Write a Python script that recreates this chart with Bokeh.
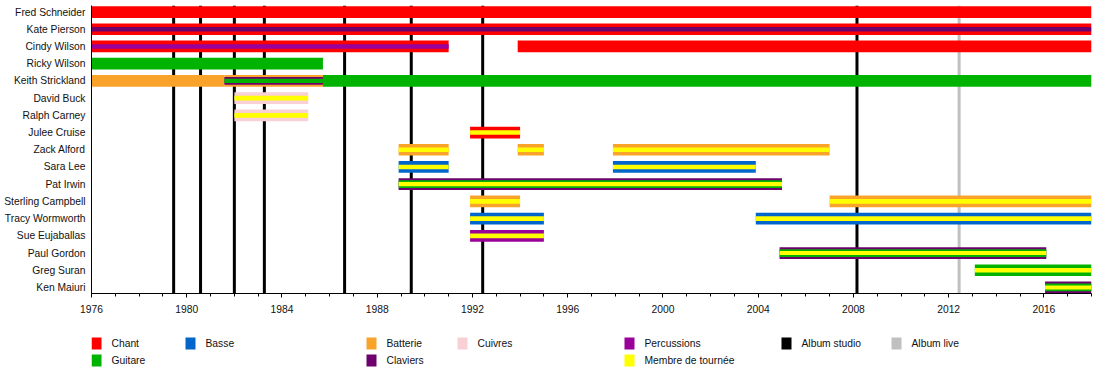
from bokeh.plotting import figure
from bokeh.models import Range1d, FixedTicker, Span, ColumnDataSource
from bokeh.layouts import column
from bokeh.embed import file_html
from bokeh.resources import INLINE
from bokeh.core.properties import value

# ---------------- data ----------------
members = ["Fred Schneider", "Kate Pierson", "Cindy Wilson", "Ricky Wilson",
           "Keith Strickland", "David Buck", "Ralph Carney", "Julee Cruise",
           "Zack Alford", "Sara Lee", "Pat Irwin", "Sterling Campbell",
           "Tracy Wormworth", "Sue Eujaballas", "Paul Gordon", "Greg Suran",
           "Ken Maiuri"]

role_names = ["Chant", "Guitare", "Basse", "Batterie", "Claviers", "Cuivres",
              "Percussions", "Membre de tournée"]
role_colors = ["#FF0000", "#00B300", "#0066CC", "#FAA32B", "#6E006E", "#F9D0D6",
               "#9A009A", "#FFFF00"]

T = "Membre de tournée"
period_member = ["Fred Schneider", "Kate Pierson", "Cindy Wilson", "Cindy Wilson",
                 "Ricky Wilson", "Keith Strickland", "Keith Strickland", "Keith Strickland",
                 "David Buck", "Ralph Carney", "Julee Cruise",
                 "Zack Alford", "Zack Alford", "Zack Alford",
                 "Sara Lee", "Sara Lee", "Pat Irwin",
                 "Sterling Campbell", "Sterling Campbell",
                 "Tracy Wormworth", "Tracy Wormworth", "Sue Eujaballas",
                 "Paul Gordon", "Greg Suran", "Ken Maiuri"]
period_start = [1976, 1976, 1976, 1993.9,
                1976, 1976, 1981.58, 1985.72,
                1982.0, 1982.0, 1991.9,
                1988.9, 1993.9, 1997.9,
                1988.9, 1997.9, 1988.9,
                1991.9, 2007.0,
                1991.9, 2003.9, 1991.9,
                2004.9, 2013.1, 2016.05]
period_end = [2018, 2018, 1991.0, 2018,
              1985.72, 1981.58, 1985.72, 2018,
              1985.1, 1985.1, 1994.0,
              1991.0, 1995.0, 2007.0,
              1991.0, 2003.9, 2005.0,
              1994.0, 2018,
              1995.0, 2018, 1995.0,
              2016.1, 2018, 2018]
period_roles = [["Chant"], ["Chant", "Claviers"], ["Chant", "Percussions"], ["Chant"],
                ["Guitare"], ["Batterie"], ["Batterie", "Claviers", "Guitare"], ["Guitare"],
                ["Cuivres", T], ["Cuivres", T], ["Chant", T],
                ["Batterie", T], ["Batterie", T], ["Batterie", T],
                ["Basse", T], ["Basse", T], ["Claviers", "Guitare", T],
                ["Batterie", T], ["Batterie", T],
                ["Basse", T], ["Basse", T], ["Percussions", T],
                ["Claviers", "Guitare", T], ["Guitare", T], ["Claviers", "Guitare", T]]

studio_albums = [1979.45, 1980.58, 1982.0, 1983.26, 1986.63, 1989.43, 1992.43, 2008.15]
live_albums = [2012.44]

tick_years = [1976, 1980, 1984, 1988, 1992, 1996, 2000, 2004, 2008, 2012, 2016]
minor_years = list(range(1976, 2019))

legend_labels = ["Chant", "Guitare", "Basse", "Batterie", "Claviers", "Cuivres",
                 "Percussions", "Membre de tournée", "Album studio", "Album live"]
legend_colors = ["#FF0000", "#00B300", "#0066CC", "#FAA32B", "#6E006E", "#F9D0D6",
                 "#9A009A", "#FFFF00", "#000000", "#C0C0C0"]

# ---------------- styles / layout ----------------
FONT = "Liberation Sans"
FS = "10.3px"
LAYER_H = {1: [0.68], 2: [0.68, 0.27], 3: [0.68, 0.45, 0.24]}
color_of = dict(zip(role_names, role_colors))

rows = []
for m, s, e, roles in zip(period_member, period_start, period_end, period_roles):
    hs = LAYER_H[len(roles)]
    for j, r in enumerate(roles):
        rows.append((j, members.index(m), s, e, hs[j], color_of[r]))
rows.sort(key=lambda t: t[0])
src = ColumnDataSource(dict(
    y=[r[1] for r in rows], left=[r[2] for r in rows], right=[r[3] for r in rows],
    h=[r[4] for r in rows], color=[r[5] for r in rows]))

FRAME_L, FRAME_R = 91, 1091
p = figure(width=1100, height=315, x_range=Range1d(1976, 2018),
           y_range=Range1d(16.35, -0.38), toolbar_location=None,
           output_backend="svg", min_border_left=FRAME_L, min_border_right=1100 - FRAME_R,
           min_border_top=5, min_border_bottom=22)
p.outline_line_color = None
p.xgrid.visible = False
p.ygrid.visible = False

for yr in studio_albums:
    p.add_layout(Span(location=yr, dimension="height", line_color="black",
                      line_width=3, level="underlay"))
for yr in live_albums:
    p.add_layout(Span(location=yr, dimension="height", line_color="#C0C0C0",
                      line_width=3, level="underlay"))

p.hbar(y="y", left="left", right="right", height="h", fill_color="color",
       line_color=None, source=src)

p.xaxis.ticker = FixedTicker(ticks=tick_years, minor_ticks=minor_years)
p.xaxis.major_tick_in = 0
p.xaxis.major_tick_out = 4
p.xaxis.minor_tick_in = 0
p.xaxis.minor_tick_out = 3
p.xaxis.major_label_standoff = 7
p.yaxis.ticker = FixedTicker(ticks=list(range(len(members))))
p.yaxis.major_label_overrides = {i: n for i, n in enumerate(members)}
p.yaxis.major_tick_in = 0
p.yaxis.major_tick_out = 0
p.yaxis.minor_tick_in = 0
p.yaxis.minor_tick_out = 0
p.yaxis.major_label_standoff = 6
for ax in (p.xaxis, p.yaxis):
    ax.major_label_text_font = FONT
    ax.major_label_text_font_size = FS
    ax.major_label_text_color = "#111111"
    ax.axis_line_color = "black"
    ax.major_tick_line_color = "black"
    ax.minor_tick_line_color = "black"

# legend strip: its frame is aligned with the main frame, x in page pixels
legend_px = [91, 91, 185, 366, 366, 457, 624, 624, 781, 891]
legend_row = [0, 1, 0, 0, 1, 0, 0, 1, 0, 0]
LH = 53
row_y = [28, 45]
lsrc = ColumnDataSource(dict(
    x=[x + 5 for x in legend_px],
    tx=[x + 20 for x in legend_px],
    y=[row_y[r] for r in legend_row],
    color=legend_colors, label=legend_labels))
lg = figure(width=1100, height=LH, x_range=Range1d(FRAME_L, FRAME_R), y_range=Range1d(LH, 0),
            toolbar_location=None, output_backend="svg", min_border=0,
            min_border_left=FRAME_L, min_border_right=1100 - FRAME_R,
            x_axis_location=None, y_axis_location=None)
lg.outline_line_color = None
lg.xgrid.visible = False
lg.ygrid.visible = False
lg.rect(x="x", y="y", width=10, height=12, fill_color="color", line_color=None, source=lsrc)
lg.text(x="tx", y="y", text="label", text_baseline="middle", text_align="left",
        text_font=value(FONT), text_font_size=FS, text_color="#111111", source=lsrc)

layout = column(p, lg, spacing=0)
open("out.html", "w").write(file_html(layout, INLINE))
